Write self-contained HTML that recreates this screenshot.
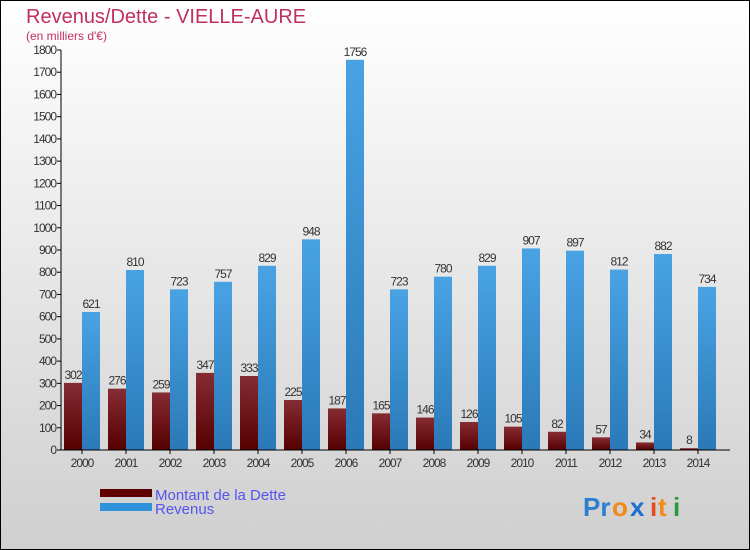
<!DOCTYPE html>
<html><head><meta charset="utf-8"><style>
body{margin:0}
#c{width:750px;height:550px;position:relative;overflow:hidden;box-sizing:border-box;border:1px solid #000;background:linear-gradient(#ffffff,#cfcfcf);font-family:"Liberation Sans",sans-serif}
</style></head><body>
<div id="c">
<svg id="s" width="750" height="550" style="position:absolute;left:-1px;top:-1px">
<defs>
<linearGradient id="gd" x1="0" y1="0" x2="0" y2="1"><stop offset="0" stop-color="#862c34"/><stop offset="1" stop-color="#560000"/></linearGradient>
<linearGradient id="gr" x1="0" y1="0" x2="0" y2="1"><stop offset="0" stop-color="#49a3e3"/><stop offset="1" stop-color="#2a79b8"/></linearGradient>
</defs>
<text x="26" y="23" font-size="20" fill="#c0305f">Revenus/Dette - VIELLE-AURE</text>
<text x="26" y="40" font-size="12" fill="#c0305f">(en milliers d'€)</text>
<g id="plot"></g>
<rect x="100" y="489" width="52" height="8" fill="#600000"/>
<rect x="100" y="503" width="52" height="8" fill="#2e92da"/>
<text x="155" y="500" font-size="15" fill="#5555ee">Montant de la Dette</text>
<text x="155" y="514" font-size="15" fill="#5555ee">Revenus</text>
<g font-size="26" font-weight="bold" font-family="Liberation Sans,sans-serif">
<text x="583" y="516" fill="#2a7fd0">Pr</text><text x="612" y="516" fill="#f28a1a">o</text><text x="630" y="516" fill="#1a6fd0">x</text><text x="650" y="516" fill="#e84a1a">i</text><text x="658" y="516" fill="#f28a1a">t</text><text x="673" y="516" fill="#2a9a3a">i</text>
</g>
</svg>
</div>
<script>
const years=["2000","2001","2002","2003","2004","2005","2006","2007","2008","2009","2010","2011","2012","2013","2014"];
const debt=[302,276,259,347,333,225,187,165,146,126,105,82,57,34,8];
const revenue=[621,810,723,757,829,948,1756,723,780,829,907,897,812,882,734];
const ticks=[0,100,200,300,400,500,600,700,800,900,1000,1100,1200,1300,1400,1500,1600,1700,1800];
const NS="http://www.w3.org/2000/svg";
const g=document.getElementById('plot');
const y=v=>450-v*400/1800;
const x=i=>64+i*44;
function mk(t,a,txt){const e=document.createElementNS(NS,t);for(const k in a)e.setAttribute(k,a[k]);if(txt!==undefined)e.textContent=txt;g.appendChild(e);return e;}
ticks.forEach(t=>{
 let l=mk('line',{x1:57,x2:61,y1:y(t),y2:y(t),stroke:'#000'});
 
 
 let tx=mk('text',{x:56,y:y(t)+4,'font-size':12,fill:'#333','text-anchor':'end','letter-spacing':'-1'},t);
 
 
});
years.forEach((yr,i)=>{
 let b=mk('rect',{x:x(i),y:y(debt[i]),width:18,height:450-y(debt[i]),fill:'url(#gd)'});
 
 
 let r=mk('rect',{x:x(i)+18,y:y(revenue[i]),width:18,height:450-y(revenue[i]),fill:'url(#gr)'});
 
 
 let dl=mk('text',{x:x(i)+9,y:y(debt[i])-4,'font-size':12,fill:'#333','text-anchor':'middle','letter-spacing':'-1'},debt[i]);
 
 
 let rl=mk('text',{x:x(i)+27,y:y(revenue[i])-4,'font-size':12,fill:'#333','text-anchor':'middle','letter-spacing':'-1'},revenue[i]);
 
 
 let tk=mk('line',{x1:x(i)+18,x2:x(i)+18,y1:450,y2:454,stroke:'#000'});
 
 
 let xl=mk('text',{x:x(i)+18,y:467,'font-size':12,fill:'#333','text-anchor':'middle','letter-spacing':'-1'},yr);
 
 
});
let ax=mk('line',{x1:61,x2:61,y1:50,y2:450,stroke:'#000'});


let bx=mk('line',{x1:61,x2:730,y1:450,y2:450,stroke:'#000'});


</script>
</body></html>
